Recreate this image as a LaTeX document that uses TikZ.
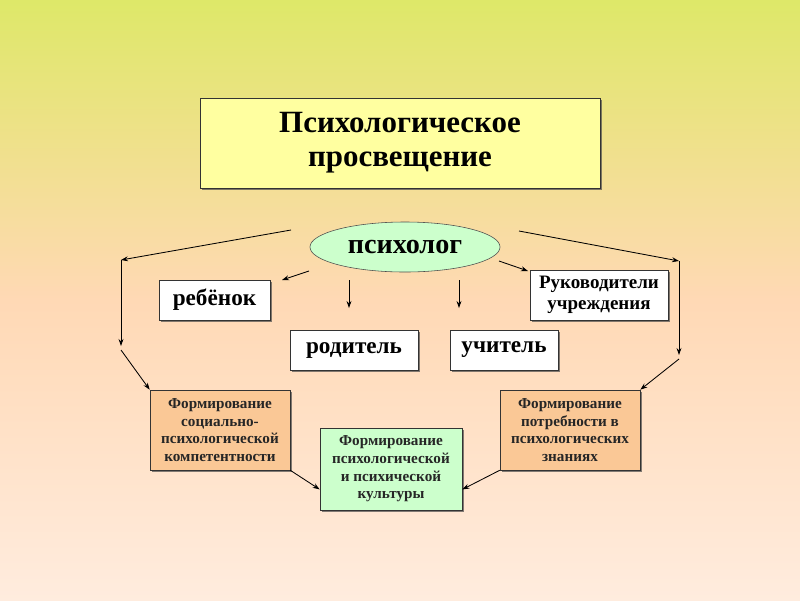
\documentclass[tikz,border=0pt]{standalone}
\usepackage{fontspec}
\setmainfont{Liberation Serif}
\usetikzlibrary{arrows.meta,shapes,shadows}
\definecolor{titlefill}{RGB}{255,255,160}
\definecolor{greenfill}{RGB}{204,255,204}
\definecolor{peachfill}{RGB}{250,200,150}
\pgfdeclareverticalshading{bgshade}{100bp}{rgb(0bp)=(1,0.925,0.87); rgb(25bp)=(1,0.925,0.87);
 rgb(50bp)=(1,0.85,0.71); rgb(62.5bp)=(0.94,0.88,0.55); rgb(75bp)=(0.87,0.91,0.41); rgb(100bp)=(0.87,0.91,0.41)}

\begin{document}
\begin{tikzpicture}[x=0.025cm,y=-0.025cm,
 box/.style={draw=black!80,fill=white,drop shadow={shadow xshift=1.5pt,shadow yshift=-1.5pt,fill=black!70,opacity=0.7}},
 arr/.style={-{Stealth[length=5pt,width=3.5pt]},line width=0.6pt},
 who/.style={box,minimum height=1cm,font=\bfseries\fontsize{16.5}{18}\selectfont},
 small/.style={align=center,font=\bfseries\fontsize{10.8}{12.6}\selectfont,text=black!85}]
\useasboundingbox(0,0)rectangle(800,600);
\shade[shading=bgshade](0,0)rectangle(800,600);
% top
\node[box,fill=titlefill,minimum width=10cm,minimum height=2.25cm,align=center,
 font=\bfseries\fontsize{22}{24}\selectfont](title)at(400,143){Психологическое\\просвещение};
\node[ellipse,draw=black!70,fill=greenfill,minimum width=4.75cm,minimum height=1.25cm,
 font=\bfseries\fontsize{20}{22}\selectfont](psy)at(405,247){психолог};
% who
\node[who,minimum width=2.78cm](child)at(214.5,300){ребёнок};
\node[who,minimum width=3.2cm](parent)at(354,350){родитель};
\node[who,minimum width=2.7cm](teacher)at(504,350){учитель};
\node[box,minimum width=3.45cm,minimum height=1.25cm,align=center,
 font=\bfseries\fontsize{13.5}{15}\selectfont](heads)at(599,295){Руководители\\учреждения};
% results
\node[box,small,fill=peachfill,minimum width=3.5cm,minimum height=2cm](socc)at(220,430)
 {Формирование\\социально-\\психологической\\компетентности};
\node[box,small,fill=peachfill,minimum width=3.5cm,minimum height=2cm](need)at(570,430)
 {Формирование\\потребности в\\психологических\\знаниях};
\node[box,small,fill=greenfill,minimum width=3.55cm,minimum height=2.05cm](cult)at(391,469)
 {Формирование\\психологической\\и психической\\культуры};
% arrows
\coordinate(l1)at(291,230);
\coordinate(l2)at(121,260);
\coordinate(l3)at(121,346);
\coordinate(l4)at(121,350);
\coordinate(r1)at(519,231);
\coordinate(r2)at(679,261);
\coordinate(r3)at(679,355);
\coordinate(r4)at(679,359);
\draw[arr](l1)--(l2);
\draw[arr](l2)--(l3);
\draw[arr](l4)--(socc.north west);
\draw[arr](r1)--(r2);
\draw[arr](r2)--(r3);
\draw[arr](r4)--(need.north east);
\coordinate(a1)at(309,271);
\coordinate(a2)at(282,280);
\coordinate(b1)at(349,280);
\coordinate(b2)at(349,308);
\coordinate(c1)at(459,280);
\coordinate(c2)at(459,308);
\coordinate(d1)at(499,261);
\coordinate(d2)at(528,271);
\draw[arr](a1)--(a2);
\draw[arr](b1)--(b2);
\draw[arr](c1)--(c2);
\draw[arr](d1)--(d2);
\draw[arr](socc.south east)--(cult.196);
\draw[arr](need.south west)--(cult.344);
\end{tikzpicture}
\end{document}
